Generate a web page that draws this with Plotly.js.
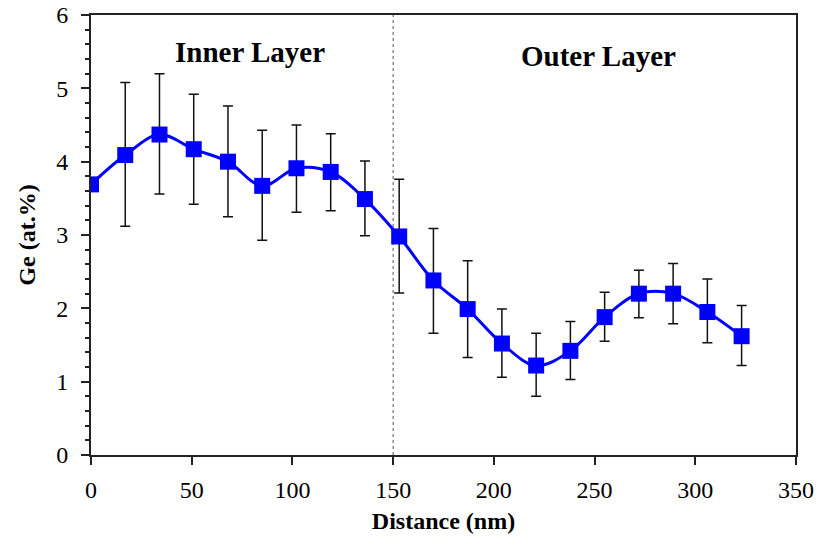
<!DOCTYPE html>
<html>
<head>
<meta charset="utf-8">
<script src="https://cdn.plot.ly/plotly-3.0.1.min.js"></script>
<style>html,body{margin:0;padding:0;background:#fff;}#chart{width:818px;height:546px;}</style>
</head>
<body>
<div id="chart"></div>
<script>
// Data
const distance = [0, 17, 34, 51, 68, 85, 102, 119, 136, 153, 170, 187, 204, 221, 238, 255, 272, 289, 306, 323];
const ge = [3.69, 4.09, 4.37, 4.17, 4.00, 3.67, 3.91, 3.86, 3.49, 2.98, 2.38, 1.99, 1.52, 1.22, 1.42, 1.88, 2.20, 2.20, 1.95, 1.62];
const errUpper = [3.69, 5.08, 5.20, 4.92, 4.76, 4.43, 4.50, 4.38, 4.01, 3.76, 3.09, 2.65, 1.99, 1.66, 1.82, 2.22, 2.52, 2.61, 2.40, 2.04];
const errLower = [3.69, 3.12, 3.56, 3.42, 3.25, 2.93, 3.31, 3.33, 2.99, 2.21, 1.66, 1.33, 1.06, 0.80, 1.03, 1.55, 1.87, 1.79, 1.53, 1.22];
const layerBoundary = 150;
const layerLabels = ["Inner Layer", "Outer Layer"];
const layerLabelX = [79, 252];
const layerLabelY = [5.49, 5.44];

const plus = ge.map((v, i) => +(errUpper[i] - v).toFixed(3));
const minus = ge.map((v, i) => +(v - errLower[i]).toFixed(3));

const font = "Liberation Serif, Times New Roman, Times, serif";

const trace = {
  x: distance,
  y: ge,
  type: 'scatter',
  mode: 'lines+markers',
  line: {color: '#0000FF', width: 3, shape: 'spline', smoothing: 1},
  marker: {symbol: 'square', size: 16, color: '#0000FF'},
  error_y: {
    type: 'data', symmetric: false, array: plus, arrayminus: minus,
    visible: true, color: '#111', thickness: 1.5, width: 5
  },
  showlegend: false,
  hoverinfo: 'x+y'
};

// invisible helper trace on a twin axis that only carries the minor y ticks
const minorTrace = {x: [0], y: [0], xaxis: 'x', yaxis: 'y2', mode: 'markers',
  marker: {opacity: 0}, showlegend: false, hoverinfo: 'skip'};

const layout = {
  width: 818, height: 546,
  margin: {l: 91, r: 22, t: 15, b: 91},
  paper_bgcolor: '#fff', plot_bgcolor: '#fff',
  font: {family: font, color: '#000', size: 24},
  xaxis: {
    range: [0, 350], tickmode: 'linear', tick0: 0, dtick: 50,
    showgrid: false, zeroline: false,
    showline: true, linecolor: '#222', linewidth: 2, mirror: true,
    ticks: 'outside', ticklen: 8, tickwidth: 2, tickcolor: '#222',
    tickfont: {family: font, size: 24, color: '#000'},
    ticklabelstandoff: 4,
    title: {text: '<b>Distance (nm)</b>', font: {family: font, size: 24, color: '#000'}, standoff: 10}
  },
  yaxis: {
    range: [0, 6], tickmode: 'linear', tick0: 0, dtick: 1,
    showgrid: false, zeroline: false,
    showline: true, linecolor: '#222', linewidth: 2, mirror: true,
    ticks: 'outside', ticklen: 8, tickwidth: 2, tickcolor: '#222',
    tickfont: {family: font, size: 24, color: '#000'},
    ticklabelstandoff: 8,
    title: {text: '<b>Ge (at.%)</b>', font: {family: font, size: 24, color: '#000'}, standoff: 14}
  },
  yaxis2: {
    overlaying: 'y', side: 'left', range: [0, 6], tickmode: 'linear', tick0: 0, dtick: 0.2,
    showgrid: false, zeroline: false, showline: false, showticklabels: false,
    ticks: 'outside', ticklen: 5, tickwidth: 2, tickcolor: '#222'
  },
  shapes: [{
    type: 'line', xref: 'x', yref: 'paper', x0: layerBoundary, x1: layerBoundary, y0: 0, y1: 1,
    line: {color: '#555', width: 1, dash: 'dot'}, layer: 'below'
  }],
  annotations: layerLabels.map((t, i) => ({
    text: '<b>' + t + '</b>', x: layerLabelX[i], y: layerLabelY[i], xref: 'x', yref: 'y',
    showarrow: false, font: {family: font, size: 29, color: '#000'}, xanchor: 'center', yanchor: 'middle'
  }))
};

Plotly.newPlot('chart', [minorTrace, trace], layout, {displayModeBar: false, staticPlot: true});
</script>
</body>
</html>
